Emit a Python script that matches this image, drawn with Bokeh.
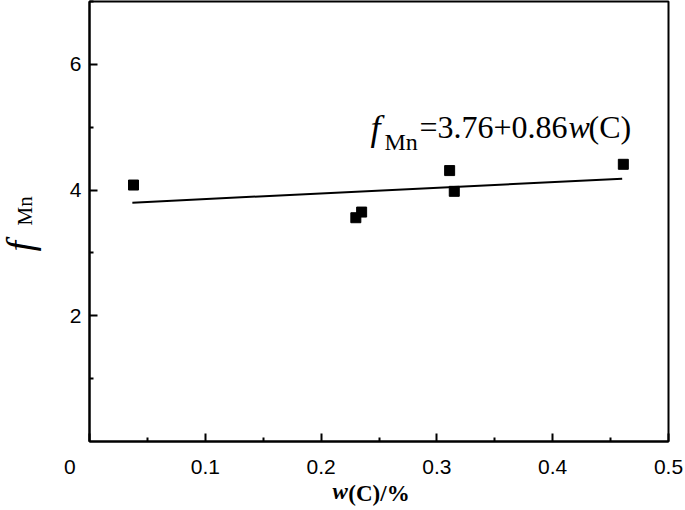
import math
from bokeh.plotting import figure
from bokeh.models import Range1d, FixedTicker, Label
from bokeh.embed import file_html
from bokeh.resources import INLINE

# ---- data ----
carbon = [0.038, 0.230, 0.235, 0.311, 0.315, 0.461]
f_mn = [4.08, 3.56, 3.65, 4.31, 3.98, 4.41]
fit_x = [0.037, 0.460]
fit_y = [3.80, 4.18]
x_ticks = [0, 0.1, 0.2, 0.3, 0.4, 0.5]
x_tick_labels = ["0\u2007\u2007\u2007\u2009", "0.1", "0.2", "0.3", "0.4", "0.5"]
x_minor = [0.05, 0.15, 0.25, 0.35, 0.45]
y_ticks = [2, 4, 6]
y_minor = [1, 3, 5, 7]

W, H = 684, 509
FL, FR, FT, FB = 88, 668, 1, 441   # expected frame edges (canvas px)

p = figure(width=W, height=H, output_backend="svg", toolbar_location=None,
           x_range=Range1d(0, 0.5), y_range=Range1d(0, 7),
           min_border_left=80, min_border_right=W - FR, min_border_top=FT,
           min_border_bottom=H - FB)
p.grid.visible = False
p.background_fill_color = "white"
p.border_fill_color = "white"
p.outline_line_color = "black"
p.outline_line_width = 2

p.xaxis.ticker = FixedTicker(ticks=x_ticks, minor_ticks=x_minor)
p.xaxis.major_label_overrides = dict(zip(x_ticks, x_tick_labels))
p.yaxis.ticker = FixedTicker(ticks=y_ticks, minor_ticks=y_minor)
for ax in (p.xaxis, p.yaxis):
    ax.axis_line_color = "black"
    ax.axis_line_width = 2
    ax.major_tick_in = 8
    ax.major_tick_out = 0
    ax.minor_tick_in = 4
    ax.minor_tick_out = 0
    ax.major_tick_line_width = 2
    ax.minor_tick_line_width = 2
    ax.major_tick_line_color = "black"
    ax.minor_tick_line_color = "black"
    ax.major_label_text_font = "Liberation Sans"
    ax.major_label_text_font_size = "21px"
    ax.major_label_text_color = "black"
p.xaxis.major_label_standoff = 13
p.yaxis.major_label_standoff = 8

# x axis title: "(C)/%" as the axis label, italic "w" as a separate label
p.xaxis.axis_label = "(C)/%"
p.xaxis.axis_label_text_font = "Liberation Serif"
p.xaxis.axis_label_text_font_size = "23px"
p.xaxis.axis_label_text_font_style = "bold"
p.xaxis.axis_label_text_color = "black"
p.xaxis.axis_label_standoff = 0

p.line(fit_x, fit_y, line_color="black", line_width=2)
p.scatter(carbon, f_mn, marker="square", size=10, fill_color="black", line_color="black")

def label(text, x, y, size, style="normal", angle=0.0, place=None):
    lab = Label(x=x, y=y, x_units="screen", y_units="screen",
                text=text, text_font="Liberation Serif", text_font_size=f"{size}px",
                text_font_style=style, text_color="black", angle=angle,
                text_align="left", text_baseline="alphabetic")
    if place is None:
        p.add_layout(lab)
    else:
        p.add_layout(lab, place)

# y axis title f_Mn (rotated) in the left panel: Mn band next to the axis, f outermost
label("Mn", 26 - 44, FB - 225, 21, angle=math.pi / 2, place="left")
label("f", 19, FB - 251, 38, style="italic", angle=math.pi / 2, place="left")

# italic w of the x title (right panel, positioned relative to its band)
label("w", 332 - FR, FB - 491, 23, style="bold italic", place="right")

# equation inside the frame (frame-relative coordinates)
label("f", 369 - FL, FB - 127, 36, style="italic")
label("Mn", 383 - FL, FB - 141, 24)
label("=3.76+0.86", 418 - FL, FB - 126, 32)
label("w", 567 - FL, FB - 126, 32, style="italic")
label("(C)", 587 - FL, FB - 126, 32)

open("out.html", "w").write(file_html(p, INLINE))
